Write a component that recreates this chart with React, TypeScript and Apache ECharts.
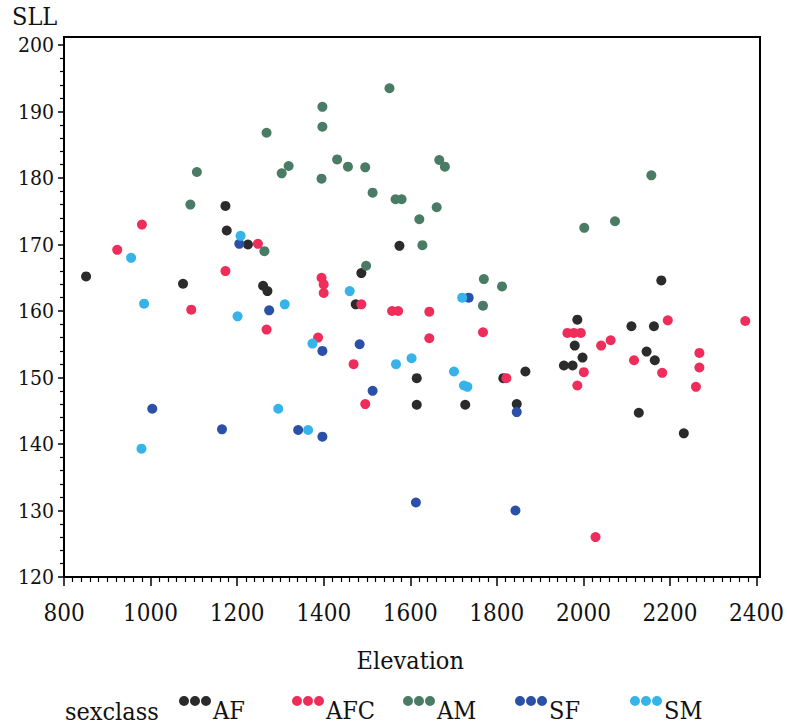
import React, { useEffect, useRef } from "react";
import * as echarts from "echarts";

const FONT = "DejaVu Serif Condensed, DejaVu Serif";

const seriesNames = ["AF", "AFC", "AM", "SF", "SM"];
const seriesColors = ["#2b2b2b", "#ee2d5b", "#4a7b65", "#2b50a8", "#36b4ea"];

const afElev = [851, 1075, 1173, 1176, 1225, 1260, 1270, 1474, 1487, 1575, 1615, 1615, 1727, 1815, 1846, 1866, 1955, 1975, 1998, 1980, 1986, 2111, 2163, 2146, 2165, 2128, 2180, 2232];
const afSll = [165.2, 164.1, 175.8, 172.1, 170, 163.8, 163, 161, 165.7, 169.8, 149.9, 145.9, 145.9, 149.9, 146, 150.9, 151.8, 151.8, 153, 154.8, 158.7, 157.7, 157.7, 153.9, 152.6, 144.7, 164.6, 141.6];

const afcElev = [923, 980, 1094, 1173, 1248, 1268, 1387, 1395, 1400, 1400, 1469, 1487, 1496, 1558, 1572, 1644, 1644, 1768, 1822, 1963, 1978, 1994, 2001, 1986, 2041, 2063, 2028, 2117, 2182, 2195, 2260, 2268, 2268, 2374];
const afcSll = [169.2, 173, 160.2, 166, 170.1, 157.2, 156, 165, 164, 162.7, 152, 161, 146, 160, 160, 159.9, 155.9, 156.8, 149.9, 156.7, 156.7, 156.7, 150.8, 148.8, 154.8, 155.6, 126, 152.6, 150.7, 158.6, 148.6, 151.5, 153.7, 158.5];

const amElev = [1092, 1107, 1263, 1268, 1303, 1319, 1395, 1397, 1397, 1431, 1456, 1496, 1498, 1513, 1552, 1566, 1580, 1621, 1628, 1661, 1667, 1680, 1768, 1770, 1812, 2002, 2073, 2157];
const amSll = [176, 180.9, 169, 186.8, 180.7, 181.8, 179.9, 190.7, 187.7, 182.8, 181.7, 181.6, 166.8, 177.8, 193.5, 176.8, 176.8, 173.8, 169.9, 175.6, 182.7, 181.7, 160.8, 164.8, 163.7, 172.5, 173.5, 180.4];

const sfElev = [1004, 1165, 1205, 1274, 1341, 1397, 1397, 1483, 1513, 1613, 1735, 1843, 1846];
const sfSll = [145.3, 142.2, 170.1, 160.1, 142.1, 154, 141.1, 155, 148, 131.2, 162, 130, 144.8];

const smElev = [955, 979, 985, 1201, 1208, 1295, 1310, 1364, 1374, 1460, 1567, 1603, 1701, 1720, 1724, 1732];
const smSll = [168, 139.3, 161.1, 159.2, 171.3, 145.3, 161, 142.1, 155.1, 163, 152, 152.9, 150.9, 162, 148.8, 148.6];

const elevs = [afElev, afcElev, amElev, sfElev, smElev];
const slls = [afSll, afcSll, amSll, sfSll, smSll];

const xTicks = { min: 800, max: 2400, interval: 200 };
const yTicks = { min: 120, max: 200, interval: 10 };

const legendLeft = [179, 292, 403, 515, 630];

const ICON =
  "path://M0,5a5,5 0 1,0 10,0a5,5 0 1,0 -10,0z M11,5a5,5 0 1,0 10,0a5,5 0 1,0 -10,0z M22,5a5,5 0 1,0 10,0a5,5 0 1,0 -10,0z M0,28 L32,28";

export default function App() {
  const ref = useRef<HTMLDivElement>(null);
  useEffect(() => {
    if (!ref.current) return;
    const chart = echarts.init(ref.current, null, { renderer: "svg" });
    const series = seriesNames.map((name, i) => ({
      name,
      type: "scatter",
      symbol: "circle",
      symbolSize: 10,
      itemStyle: { color: seriesColors[i], opacity: 1 },
      data: elevs[i].map((x, j) => [x, slls[i][j]]),
    }));
    const legends = seriesNames.map((name, i) => ({
      data: [name],
      left: legendLeft[i],
      top: 696,
      icon: ICON,
      itemWidth: 32,
      itemHeight: 28,
      padding: 0,
      selectedMode: false,
      textStyle: { fontSize: 25, fontFamily: FONT, color: "#111", padding: [0, 0, 0, -3] },
    }));
    chart.setOption({
      animation: false,
      backgroundColor: "#fff",
      title: {
        text: "SLL",
        left: 12,
        top: 4,
        padding: 0,
        textStyle: { fontSize: 25, fontWeight: "normal", fontFamily: FONT, color: "#111" },
      },
      legend: legends,
      grid: { left: 64, right: 27, top: 45, bottom: 150, containLabel: false },
      xAxis: {
        type: "value",
        min: xTicks.min,
        max: xTicks.max,
        interval: xTicks.interval,
        name: "Elevation",
        nameLocation: "middle",
        nameGap: 71,
        nameTextStyle: { fontSize: 25, fontFamily: FONT, color: "#111" },
        axisLine: { show: true, lineStyle: { color: "#000", width: 2 } },
        axisTick: { show: true, length: 9, lineStyle: { color: "#000", width: 1.5 } },
        minorTick: { show: true, splitNumber: 10, length: 5, lineStyle: { color: "#000", width: 1.2 } },
        axisLabel: {
          fontSize: 24,
          fontFamily: FONT,
          color: "#111",
          margin: 24,
          formatter: (v: number) => String(v),
        },
        splitLine: { show: false },
      },
      yAxis: {
        type: "value",
        min: yTicks.min,
        max: yTicks.max,
        interval: yTicks.interval,
        axisLine: { show: true, lineStyle: { color: "#000", width: 2 } },
        axisTick: { show: true, length: 6, lineStyle: { color: "#000", width: 1.5 } },
        minorTick: { show: true, splitNumber: 5, length: 4, lineStyle: { color: "#000", width: 1.2 } },
        axisLabel: {
          fontSize: 21,
          fontFamily: FONT,
          color: "#111",
          margin: 10,
          formatter: (v: number) => String(v),
        },
        splitLine: { show: false },
      },
      graphic: [
        {
          type: "rect",
          shape: { x: 64, y: 37, width: 696, height: 540 },
          style: { fill: "none", stroke: "#000", lineWidth: 2 },
          silent: true,
          z: 10,
        },
        {
          type: "text",
          left: 65,
          top: 699,
          style: { text: "sexclass", fontSize: 25, fontFamily: FONT, fill: "#111" },
        },
      ],
      series,
    });
    return () => chart.dispose();
  }, []);
  return <div ref={ref} style={{ width: 787, height: 727, position: "absolute", left: 0, top: 0 }} />;
}
